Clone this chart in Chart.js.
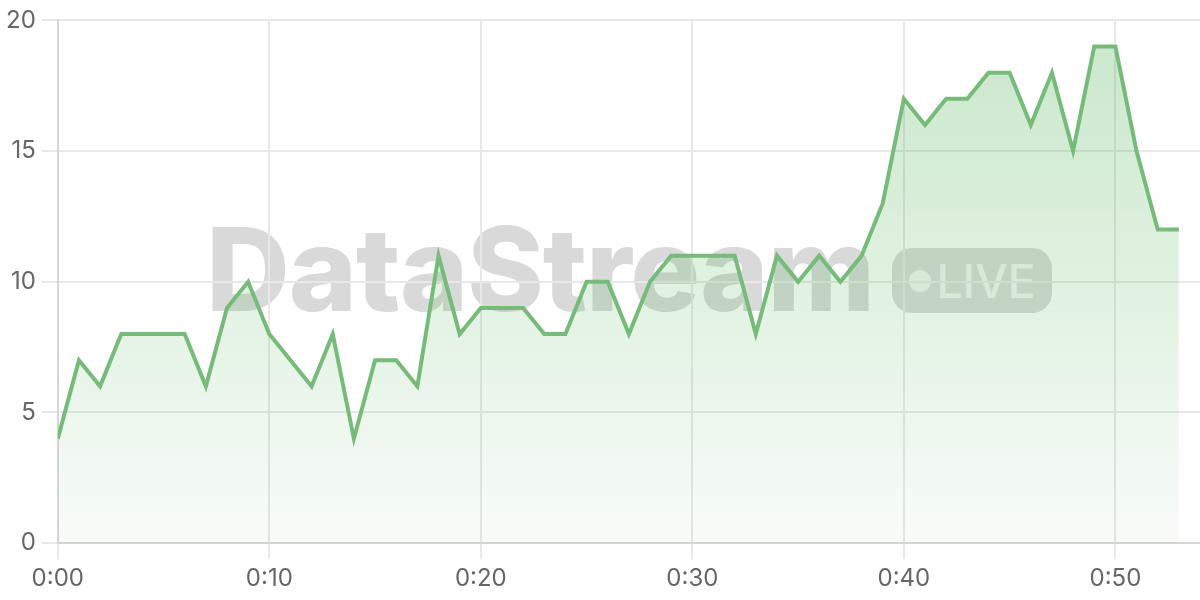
<!DOCTYPE html>
<html>
<head>
<meta charset="utf-8">
<script src="https://cdn.jsdelivr.net/npm/chart.js@4.4.1/dist/chart.umd.min.js"></script>
<style>
  html, body { margin: 0; background: #fff; }
  #wrap { position: relative; width: 1200px; height: 600px; }
  #mark { position: absolute; left: 0; top: 0; width: 1200px; height: 600px; z-index: 0; }
  #mark .word {
    position: absolute; left: 206px; top: 199px;
    font-family: Inter, sans-serif; font-weight: 800; font-size: 116px;
    letter-spacing: -1px; color: #d9d9d9; line-height: 140px;
  }
  #mark .pill {
    position: absolute; left: 892px; top: 248px; width: 160px; height: 65px;
    border-radius: 20px; background: rgba(0,0,0,0.14);
    display: flex; align-items: center; justify-content: center; gap: 6px;
    font-family: Inter, sans-serif; font-weight: 500; font-size: 46px; color: rgba(255,255,255,0.75);
  }
  #mark .dot { width: 22px; height: 22px; border-radius: 50%; background: rgba(255,255,255,0.75); }
  canvas { position: absolute; left: 0; top: 0; z-index: 1; }
</style>
</head>
<body>
<div id="wrap">
  <div id="mark">
    <div class="word">DataStream</div>
    <div class="pill"><span class="dot"></span><span>LIVE</span></div>
  </div>
  <canvas id="chart" width="1200" height="600"></canvas>
</div>
<script>
// minutes since start
const minutes = [0,1,2,3,4,5,6,7,8,9,10,11,12,13,14,15,16,17,18,19,20,21,22,23,24,25,26,
  27,28,29,30,31,32,33,34,35,36,37,38,39,40,41,42,43,44,45,46,47,48,49,50,51,52,53];
const values = [4,7,6,8,8,8,8,6,9,10,8,7,6,8,4,7,7,6,11,8,9,9,9,8,8,10,10,
  8,10,11,11,11,11,8,11,10,11,10,11,13,17,16,17,17,18,18,16,18,15,19,19,15,12,12];
const tickMinutes = [0,10,20,30,40,50];
const tickLabels = ['0:00','0:10','0:20','0:30','0:40','0:50'];

const ctx = document.getElementById('chart');

new Chart(ctx, {
  type: 'line',
  data: {
    datasets: [{
      data: minutes.map((m, i) => ({ x: m, y: values[i] })),
      borderColor: '#77bb7b',
      borderWidth: 4,
      tension: 0,
      pointRadius: 0,
      fill: 'origin',
      backgroundColor: c => {
        const area = c.chart.chartArea;
        if (!area) return 'rgba(76,175,80,0.2)';
        const g = c.chart.ctx.createLinearGradient(0, area.top, 0, area.bottom);
        g.addColorStop(0, 'rgba(76,175,80,0.3)');
        g.addColorStop(1, 'rgba(76,175,80,0.04)');
        return g;
      }
    }]
  },
  options: {
    responsive: false,
    animation: false,
    layout: { padding: { left: 0, top: 8, right: 0, bottom: 2 } },
    plugins: { legend: { display: false }, tooltip: { enabled: false } },
    scales: {
      x: {
        type: 'linear',
        min: 0,
        max: 54,
        afterBuildTicks: axis => { axis.ticks = tickMinutes.map(v => ({ value: v })); },
        ticks: {
          callback: (v, i) => tickLabels[i],
          color: '#666',
          font: { family: 'Inter', size: 24 },
          padding: 5,
          maxRotation: 0
        },
        grid: { color: '#e8e8e8', lineWidth: 2, tickLength: 16 },
        border: { color: '#d6d6d6', width: 2 }
      },
      y: {
        min: 0,
        max: 20,
        ticks: {
          stepSize: 5,
          color: '#666',
          font: { family: 'Inter', size: 24 },
          padding: 6
        },
        grid: { color: '#e8e8e8', lineWidth: 2, tickLength: 16 },
        border: { color: '#d6d6d6', width: 2 }
      }
    }
  }
});
</script>
</body>
</html>
